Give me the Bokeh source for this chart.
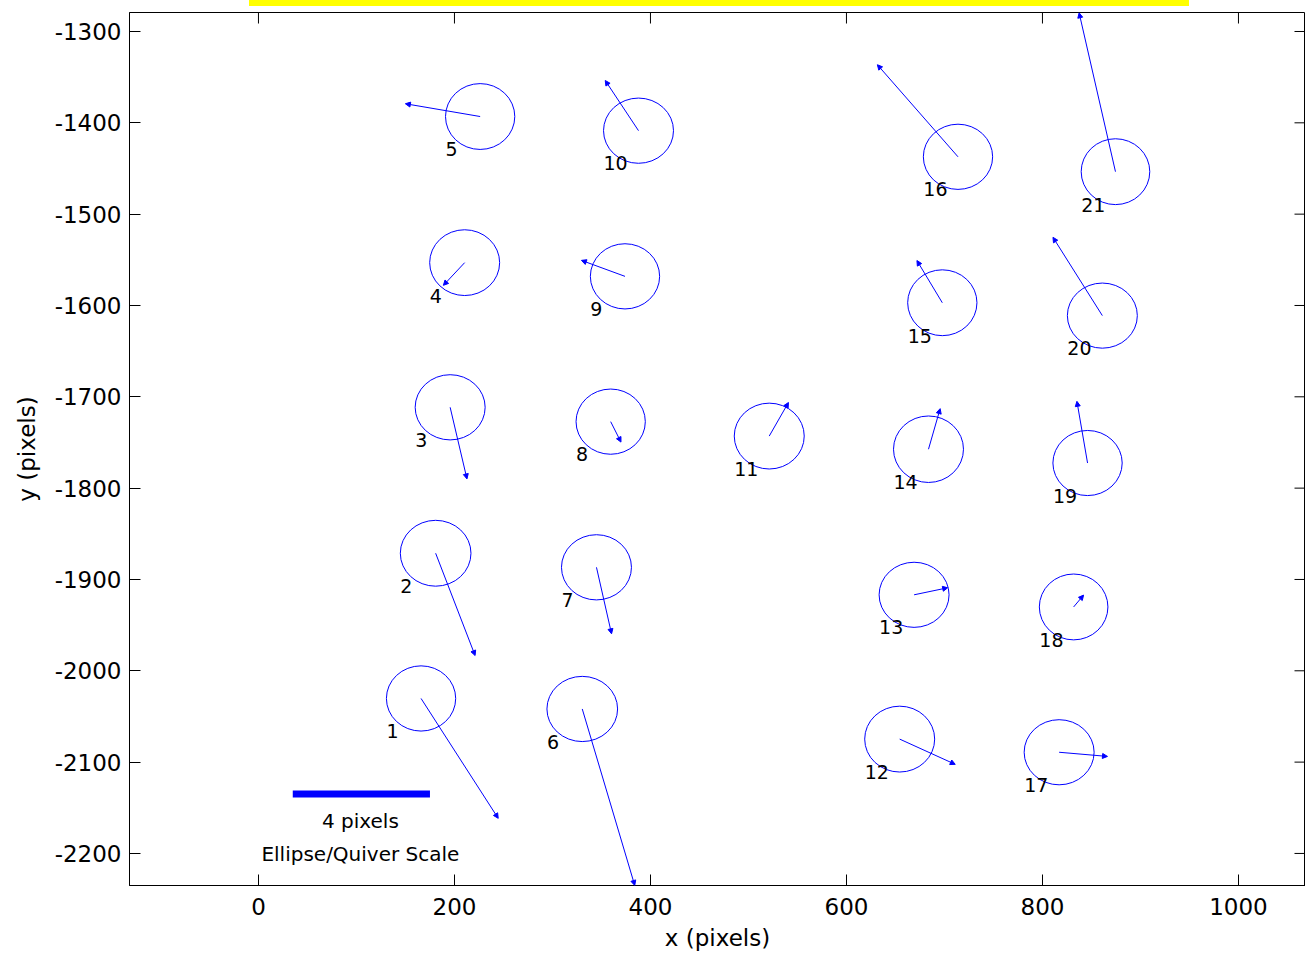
import numpy as np
from bokeh.plotting import figure
from bokeh.models import (ColumnDataSource, Arrow, NormalHead, FixedTicker,
                          Range1d, Div)
from bokeh.layouts import column
from bokeh.core.properties import value
from bokeh.embed import file_html
from bokeh.resources import INLINE

# Star / target positions on the detector (pixels)
point_id = [str(i) for i in range(1, 22)]
x_pos = [165.9, 180.8, 195.6, 210.4, 226.2, 330.4, 344.9, 359.4, 374.0, 387.8,
         521.2, 654.3, 669.0, 683.7, 697.8, 713.8, 817.0, 831.8, 846.0, 861.1, 874.5]
y_pos = [-2030.3, -1871.3, -1711.5, -1553.1, -1393.1, -2041.8, -1886.7, -1727.2,
         -1568.1, -1408.6, -1743.0, -2074.8, -1916.8, -1757.4, -1597.0, -1437.2,
         -2089.2, -1930.1, -1772.5, -1611.1, -1453.5]

# Measured offsets (pixels)
dx_pix = [2.25, 1.15, 0.49, -0.62, -2.18, 1.53, 0.44, 0.30, -1.27, -0.97, 0.56,
          1.62, 0.98, 0.34, -0.74, -2.35, 1.41, 0.29, -0.31, -1.44, -1.06]
dy_pix = [-3.75, -3.20, -2.24, -0.71, 0.40, -5.52, -2.08, -0.64, 0.50, 1.57, 1.05,
          -0.79, 0.22, 1.27, 1.32, 2.88, -0.13, 0.37, 1.93, 2.45, 4.97]

# 1-sigma uncertainty ellipse semi-axes (pixels)
sig_x = [1.01, 1.03, 1.02, 1.02, 1.01, 1.03, 1.02, 1.01, 1.01, 1.02, 1.02,
         1.02, 1.02, 1.02, 1.01, 1.01, 1.02, 1.00, 1.01, 1.02, 1.00]
sig_y = [1.02, 1.03, 1.02, 1.03, 1.03, 1.02, 1.02, 1.02, 1.02, 1.02, 1.03,
         1.03, 1.02, 1.04, 1.03, 1.02, 1.02, 1.03, 1.02, 1.02, 1.03]

# Plot units per pixel of offset / uncertainty
scale = 35.0
scale_bar_pixels = 4

x_ticks = [0, 200, 400, 600, 800, 1000]
y_ticks = [-2200, -2100, -2000, -1900, -1800, -1700, -1600, -1500, -1400, -1300]

xa = np.array(x_pos)
ya = np.array(y_pos)
sx = np.array(sig_x) * scale
sy = np.array(sig_y) * scale

src = ColumnDataSource(dict(
    x=xa, y=ya,
    xe=xa + np.array(dx_pix) * scale,
    ye=ya + np.array(dy_pix) * scale,
    w=2 * sx, h=2 * sy,
    lx=xa - sx, ly=ya - sy,
    label=point_id,
))

FONT = "DejaVu Sans"
BLUE = "#0000ff"
TICK_LEN = 11

x_range = Range1d(-131.6, 1068.4)
y_range = Range1d(-2235.1, -1279.2)

p = figure(width=1305, height=947, x_range=x_range, y_range=y_range,
           output_backend="svg", toolbar_location=None,
           min_border_left=129, min_border_right=0,
           min_border_top=6, min_border_bottom=68,
           x_axis_label="x (pixels)", y_axis_label="y (pixels)")
p.grid.visible = False
p.outline_line_color = "black"
p.background_fill_color = "white"
p.border_fill_color = "white"

for ax, ticks in ((p.xaxis[0], x_ticks), (p.yaxis[0], y_ticks)):
    ax.ticker = FixedTicker(ticks=ticks)
    ax.major_label_overrides = {t: str(t) for t in ticks}
    ax.major_tick_in = TICK_LEN
    ax.major_tick_out = 0
    ax.minor_tick_line_color = None
    ax.axis_line_color = "black"
    ax.major_tick_line_color = "black"
    ax.major_label_text_font = FONT
    ax.major_label_text_font_size = "23px"
    ax.major_label_text_color = "black"
    ax.axis_label_text_font = FONT
    ax.axis_label_text_font_size = "23px"
    ax.axis_label_text_font_style = "normal"
    ax.axis_label_text_color = "black"

p.xaxis[0].major_label_standoff = 12
p.xaxis[0].axis_label_standoff = 7
p.yaxis[0].major_label_standoff = 8
p.yaxis[0].axis_label_standoff = 12

# Inward box ticks along the top and right edges
p.ray(x=x_ticks, y=[y_range.end] * len(x_ticks), length=TICK_LEN,
      length_units="screen", angle=-np.pi / 2, line_color="black", line_width=1)
p.ray(x=[x_range.end] * len(y_ticks), y=y_ticks, length=TICK_LEN,
      length_units="screen", angle=np.pi, line_color="black", line_width=1)

# Uncertainty ellipses
p.ellipse(x="x", y="y", width="w", height="h", source=src,
          fill_color=None, line_color=BLUE, line_width=1)

# Offset vectors with small quiver heads
p.add_layout(Arrow(end=NormalHead(size=5, fill_color=BLUE, line_color=BLUE,
                                  line_width=1),
                   x_start="x", y_start="y", x_end="xe", y_end="ye",
                   source=src, line_color=BLUE, line_width=1))

# Point numbers
p.text(x="lx", y="ly", text="label", source=src,
       text_font=value(FONT), text_font_size="19px", text_color="black",
       text_align="left", text_baseline="middle")

# Scale bar
bar_x0 = 35.0
bar_y = -2135.0
bar_len = scale_bar_pixels * scale
p.line(x=[bar_x0, bar_x0 + bar_len], y=[bar_y, bar_y],
       line_color=BLUE, line_width=7, line_cap="butt")
p.text(x=[bar_x0 + bar_len / 2 - 1, bar_x0 + bar_len / 2 - 1],
       y=[-2165.0, -2201.0],
       text=[f"{scale_bar_pixels} pixels", "Ellipse/Quiver Scale"],
       text_font=value(FONT), text_font_size="20px", text_color="black",
       text_align="center", text_baseline="middle")

banner = Div(text="", width=940, height=6, margin=(0, 0, 0, 249),
             styles={"background-color": "#ffff00"})

layout = column(banner, p, spacing=0)
open("out.html", "w").write(file_html(layout, INLINE))
